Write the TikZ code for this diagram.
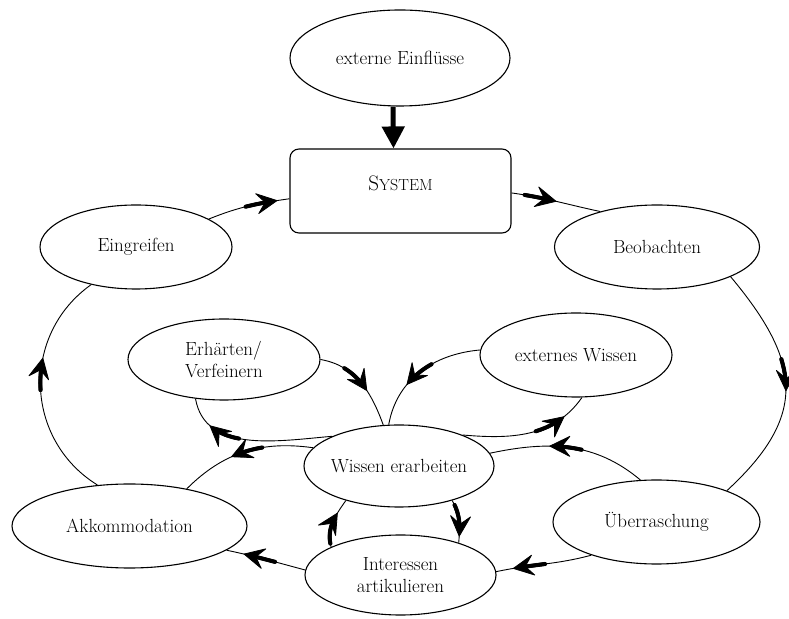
\documentclass[tikz,border=0pt]{standalone}
\usetikzlibrary{shapes.geometric,arrows.meta,decorations.markings}
\tikzset{
  base/.style={font=\fontsize{19}{22}\selectfont},
  ell/.style={base,draw,ellipse,line width=1.1pt,inner sep=-3pt,minimum width=#1},
  sysbox/.style={draw,rectangle,rounded corners=9pt,line width=1.1pt,minimum width=221pt,minimum height=84pt},
  conn/.style={line width=0.9pt},
  marr/.style={conn,postaction={decorate},decoration={markings,
    mark=between positions #1*\pgfdecoratedpathlength-32pt and #1*\pgfdecoratedpathlength-11pt step 1pt with {\fill (0,0) circle (2.1pt);},
    mark=at position #1 with {\filldraw[line width=0.8pt,line join=round] (0,0) -- (-20pt,10pt) -- (-12pt,0) -- (-20pt,-10pt) -- cycle;}}},
}
\begin{document}
\begin{tikzpicture}[x=1pt,y=1pt]
\useasboundingbox (0,0) rectangle (789,618);
\node[ell=220pt,minimum height=96pt] (ein) at (400,560) {externe Einflüsse};
\node[sysbox] (sys) at (400.5,427) {};
\node[font=\fontsize{21}{24}\selectfont] (systext) at (400.5,435) {S{\fontsize{16}{19}\selectfont YSTEM}};
\node[ell=192pt,minimum height=84pt] (eing) at (136,371) {Eingreifen};
\node[ell=205pt,minimum height=84pt] (beob) at (657,371) {Beobachten};
\node[ell=192pt,minimum height=81pt,align=left,xshift=-4pt] (erh) at (228,258.5) {Erhärten/\\Verfeinern};
\node[ell=192pt,minimum height=84pt] (ext) at (576,263) {externes Wissen};
\node[ell=190pt,minimum height=82pt] (wis) at (399,152) {Wissen erarbeiten};
\node[ell=235pt,minimum height=84pt] (akk) at (129.5,92) {Akkommodation};
\node[ell=207pt,minimum height=84pt] (ueb) at (656.5,96) {Überraschung};
\node[ell=191pt,minimum height=80pt,align=center] (int) at (400.5,43) {Interessen\\artikulieren};

\draw[line width=5pt,-{Triangle[length=22pt,width=22pt]}] ([xshift=-7pt]ein.south) -- ([xshift=-7pt]sys.north);

\draw[marr=0.85] (eing.21) to[out=22,in=188] (sys.184);
\draw[marr=0.5] (sys.-1) to[out=-8,in=168] (beob.148);
\draw[marr=0.52] (beob.-22) .. controls (802,256) and (808,202) .. (ueb.24);
\draw[marr=0.62] (akk.128) .. controls (24.5,178) and (20.4,283) .. (eing.220);
\draw[marr=0.62] (ueb.111) to[out=140,in=12] (wis.8);
\draw[marr=0.82] (ueb.207) to[out=195,in=12] (int.2);
\draw[marr=0.78] (int.177) to[out=165,in=-12] (akk.-14);
\draw[marr=0.6] (wis.168) to[out=172,in=45] (akk.33);
\draw[marr=0.7] (int.158) to[out=105,in=235] (wis.213);
\draw[marr=0.85] (wis.-33) to[out=-60,in=85] (int.29);
\draw[marr=0.8] (wis.156) to[out=185,in=-80] (erh.234);
\draw[marr=0.6] (erh.0) to[out=-10,in=110] (wis.111);
\draw[marr=0.65] (ext.177) to[out=185,in=80] (wis.104);
\draw[marr=0.8] (wis.26) to[out=-5,in=-125] (ext.-82);
\end{tikzpicture}
\end{document}
